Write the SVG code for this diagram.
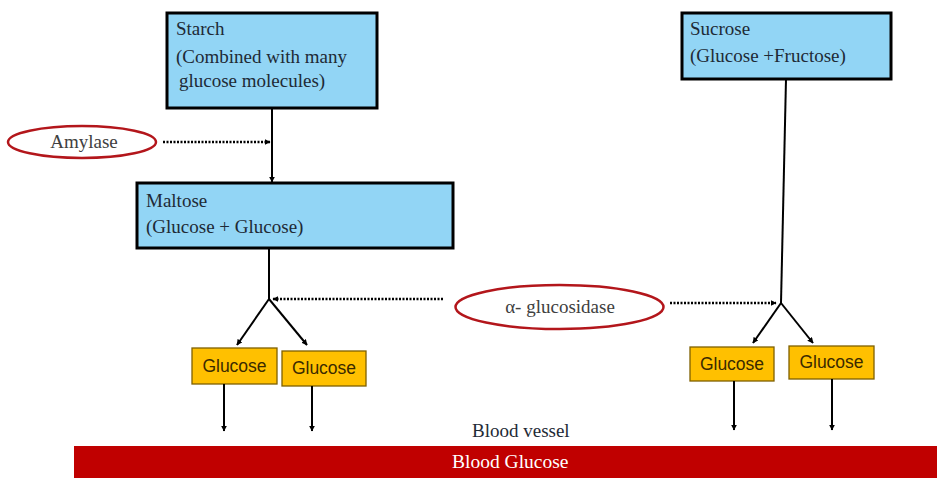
<svg xmlns="http://www.w3.org/2000/svg" width="937" height="478" viewBox="0 0 937 478">
<defs>
<marker id="ah" viewBox="0 0 10 10" refX="9" refY="5" markerWidth="6" markerHeight="6" markerUnits="userSpaceOnUse" orient="auto">
<path d="M0,0 L10,5 L0,10 z" fill="#000"/>
</marker>
<style>
.sbox{fill:#92D5F5;stroke:#000;stroke-width:3}
.gbox{fill:#FFC000;stroke:#7F6000;stroke-width:1.3}
.serif{font-family:"Liberation Serif","Times New Roman",serif;font-size:19px;fill:#1e2a36}
.enz{fill:none;stroke:#B3161B;stroke-width:2.5}
.etext{font-family:"Liberation Serif","Times New Roman",serif;font-size:19px;fill:#404040;text-anchor:middle}
.gtext{font-family:"Liberation Sans",Arial,sans-serif;font-size:17.5px;fill:#3a2a00;text-anchor:middle}
.line{fill:none;stroke:#000;stroke-width:2}
.dot{fill:none;stroke:#000;stroke-width:2.5;stroke-dasharray:2 1.5}
</style>
</defs>
<rect width="937" height="478" fill="#fff"/>

<g id="starch">
<rect class="sbox" x="167" y="13" width="210" height="95"/>
<text class="serif" x="176" y="35">Starch</text>
<text class="serif" x="176" y="63">(Combined with many</text>
<text class="serif" x="179" y="87">glucose molecules)</text>
</g>

<g id="sucrose">
<rect class="sbox" x="682" y="13" width="209" height="66"/>
<text class="serif" x="690" y="35">Sucrose</text>
<text class="serif" x="690" y="62">(Glucose +Fructose)</text>
</g>

<g id="maltose">
<rect class="sbox" x="137" y="183" width="316" height="65"/>
<text class="serif" x="146" y="207">Maltose</text>
<text class="serif" x="146" y="233">(Glucose + Glucose)</text>
</g>

<g id="amylase">
<ellipse class="enz" cx="82" cy="142" rx="74" ry="16"/>
<text class="etext" x="84" y="148">Amylase</text>
</g>

<g id="alpha-glucosidase">
<ellipse class="enz" cx="559.5" cy="307" rx="104" ry="22"/>
<text class="etext" x="560" y="313">α- glucosidase</text>
</g>

<g id="glucose1">
<rect class="gbox" x="192" y="348" width="85" height="36"/>
<text class="gtext" x="234.5" y="372">Glucose</text>
</g>
<g id="glucose2">
<rect class="gbox" x="282" y="351" width="84" height="35"/>
<text class="gtext" x="324" y="374">Glucose</text>
</g>
<g id="glucose3">
<rect class="gbox" x="690" y="347" width="84" height="34"/>
<text class="gtext" x="732" y="370">Glucose</text>
</g>
<g id="glucose4">
<rect class="gbox" x="789" y="346" width="85" height="33"/>
<text class="gtext" x="831.5" y="368">Glucose</text>
</g>

<g id="blood-vessel">
<text class="serif" x="472" y="437" fill="#222">Blood vessel</text>
<rect x="74" y="446" width="863" height="32" fill="#C00000"/>
<text x="452" y="468" font-family="'Liberation Serif','Times New Roman',serif" font-size="19.5" fill="#fff">Blood Glucose</text>
</g>

<g id="connectors">
<line class="line" x1="272" y1="108" x2="272" y2="182" marker-end="url(#ah)"/>
<line class="dot" x1="163" y1="142" x2="270" y2="142" marker-end="url(#ah)"/>
<line class="line" x1="269" y1="248" x2="269" y2="299"/>
<line class="line" x1="269" y1="299" x2="237" y2="345" marker-end="url(#ah)"/>
<line class="line" x1="269" y1="299" x2="307" y2="345" marker-end="url(#ah)"/>
<line class="dot" x1="443" y1="299" x2="273" y2="299" marker-end="url(#ah)"/>
<line class="line" x1="786" y1="79" x2="781" y2="303"/>
<line class="line" x1="781" y1="303" x2="753" y2="343" marker-end="url(#ah)"/>
<line class="line" x1="781" y1="303" x2="813" y2="343" marker-end="url(#ah)"/>
<line class="dot" x1="670" y1="303" x2="776" y2="303" marker-end="url(#ah)"/>
<line class="line" x1="224" y1="384" x2="224" y2="431" marker-end="url(#ah)"/>
<line class="line" x1="312" y1="386" x2="312" y2="431" marker-end="url(#ah)"/>
<line class="line" x1="734" y1="381" x2="734" y2="430" marker-end="url(#ah)"/>
<line class="line" x1="832" y1="379" x2="832" y2="430" marker-end="url(#ah)"/>
</g>
</svg>
